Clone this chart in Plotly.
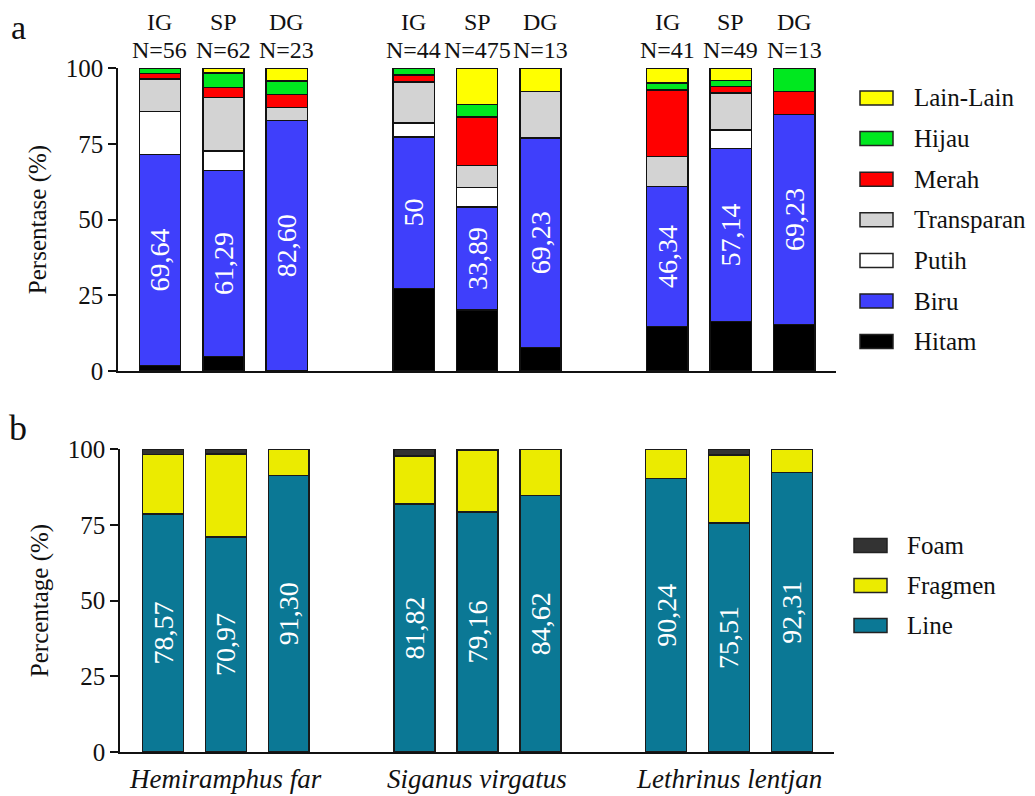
import plotly.graph_objects as go

# ---------------- data ----------------
species = ["Hemiramphus far", "Siganus virgatus", "Lethrinus lentjan"]
sites = ["IG", "SP", "DG"]
n_counts = [56, 62, 23, 44, 475, 13, 41, 49, 13]

# panel a: colour composition (%), bars ordered species x site
hitam      = [1.79, 4.84, 0,    27.27, 20.21, 7.69,  14.63, 16.33, 15.38]
biru       = [69.64, 61.29, 82.60, 50, 33.89, 69.23, 46.34, 57.14, 69.23]
putih      = [14.29, 6.45, 0,   4.55,  6.53,  0,     0,     6.12,  0]
transparan = [10.71, 17.74, 4.35, 13.64, 7.16, 15.38, 9.76, 12.24, 0]
merah      = [1.79, 3.23, 4.35, 2.27,  16.00, 0,     21.95, 2.04,  7.69]
hijau      = [1.79, 4.84, 4.35, 2.27,  4.21,  0,     2.44,  2.04,  7.69]
lain_lain  = [0,    1.61, 4.35, 0,     12.00, 7.69,  4.88,  4.08,  0]
biru_labels = ["69,64", "61,29", "82,60", "50", "33,89", "69,23", "46,34", "57,14", "69,23"]

# panel b: shape composition (%)
line_pct    = [78.57, 70.97, 91.30, 81.82, 79.16, 84.62, 90.24, 75.51, 92.31]
fragmen_pct = [19.64, 27.42, 8.70, 15.91, 20.42, 15.38, 9.76, 22.45, 7.69]
foam_pct    = [1.79, 1.61, 0, 2.27, 0.42, 0, 0, 2.04, 0]
line_labels = ["78,57", "70,97", "91,30", "81,82", "79,16", "84,62", "90,24", "75,51", "92,31"]

top_series = [
    ("Hitam", hitam, "#000000"),
    ("Biru", biru, "#3F3FFB"),
    ("Putih", putih, "#FFFFFF"),
    ("Transparan", transparan, "#D3D3D3"),
    ("Merah", merah, "#FF0000"),
    ("Hijau", hijau, "#00E81F"),
    ("Lain-Lain", lain_lain, "#FFFF00"),
]
bot_series = [
    ("Line", line_pct, "#0B7895"),
    ("Fragmen", fragmen_pct, "#EBEB00"),
    ("Foam", foam_pct, "#333333"),
]

FONT = "Liberation Serif"
W, H = 1035, 796
OFF = 8  # page body margin offset

def px_x(p):
    return (p - OFF) / W

def px_y(p):
    return 1 - (p - OFF) / H

# bar positions: 3 bars per species, gap of one slot between species
xpos = [g * 4 + j for g in range(len(species)) for j in range(len(sites))]

fig = go.Figure()

for name, vals, col in top_series:
    kw = {}
    if name == "Biru":
        kw = dict(text=biru_labels, textposition="inside", insidetextanchor="middle",
                  textangle=-90, constraintext="none",
                  textfont=dict(family=FONT, size=28, color="white"))
    fig.add_trace(go.Bar(
        x=xpos, y=[v if v else None for v in vals], name=name,
        marker=dict(color=col, line=dict(color="#111111", width=1.5)),
        width=0.65, xaxis="x", yaxis="y", showlegend=False, **kw))

for name, vals, col in bot_series:
    kw = {}
    if name == "Line":
        kw = dict(text=line_labels, textposition="inside", insidetextanchor="middle",
                  textangle=-90, constraintext="none",
                  textfont=dict(family=FONT, size=28, color="white"))
    fig.add_trace(go.Bar(
        x=xpos, y=[v if v else None for v in vals], name=name,
        marker=dict(color=col, line=dict(color="#1a1a1a", width=1.5)),
        width=0.65, xaxis="x2", yaxis="y2", showlegend=False, **kw))

yaxis_common = dict(
    range=[0, 100], tickvals=[0, 25, 50, 75, 100], ticks="outside", ticklen=8,
    tickwidth=1.5, tickcolor="#111", showline=True, linecolor="#111", linewidth=1.5,
    showgrid=False, zeroline=False, automargin=False,
    tickfont=dict(family=FONT, size=25, color="#111"),
    title_font=dict(family=FONT, size=25, color="#111"), title_standoff=12,
)
xaxis_common = dict(showline=True, linecolor="#111", linewidth=1.5, showgrid=False,
                    zeroline=False, showticklabels=False, ticks="", automargin=False)

fig.update_layout(
    width=W, height=H, margin=dict(l=0, r=0, t=0, b=0, autoexpand=False),
    paper_bgcolor="white", plot_bgcolor="white", barmode="stack",
    font=dict(family=FONT, color="#111"),
    xaxis=dict(domain=[px_x(118), px_x(836)], range=[-0.662, 10.66], anchor="y", **xaxis_common),
    yaxis=dict(domain=[px_y(371), px_y(68)], anchor="x", title_text="Persentase (%)", **yaxis_common),
    xaxis2=dict(domain=[px_x(120), px_x(834)], range=[-0.684, 10.67], anchor="y2", **xaxis_common),
    yaxis2=dict(domain=[px_y(752), px_y(449)], anchor="x2", title_text="Percentage (%)", **yaxis_common),
)

ann = []
def txt(x, xref, y, text, size=25, xanchor="center", yanchor="middle"):
    ann.append(dict(x=x, xref=xref, y=y, yref="paper", text=text, showarrow=False,
                    xanchor=xanchor, yanchor=yanchor, borderpad=0,
                    font=dict(family=FONT, size=size, color="#111")))

# headers above top bars
for i, x in enumerate(xpos):
    txt(x, "x", 1.0, sites[i % 3], size=24, yanchor="top")
    txt(x, "x", px_y(36), f"N={n_counts[i]}", size=24, yanchor="top")
# species names
for g, sp in enumerate(species):
    txt(g * 4 + 1, "x2", px_y(779), f"<i>{sp}</i>", size=27)
# panel letters
txt(px_x(18), "paper", 1.0, "a", size=34, yanchor="top")
txt(px_x(18), "paper", px_y(428), "b", size=36)

shapes = []
# manual legends
def add_legend(series, x0, x1, xt, yc0, step):
    for k, (name, vals, col) in enumerate(series):
        yc = yc0 + k * step
        shapes.append(dict(type="rect", xref="paper", yref="paper",
                           x0=px_x(x0), x1=px_x(x1), y0=px_y(yc + 7), y1=px_y(yc - 7),
                           fillcolor=col, line=dict(color="#222", width=1.5)))
        txt(px_x(xt), "paper", px_y(yc), name, xanchor="left")

add_legend(list(reversed(top_series)), 860, 893, 913, 98, 40.6)
add_legend(list(reversed(bot_series)), 854, 887, 906, 545.5, 40)

fig.update_layout(annotations=ann, shapes=shapes)
fig.write_html("out.html")
